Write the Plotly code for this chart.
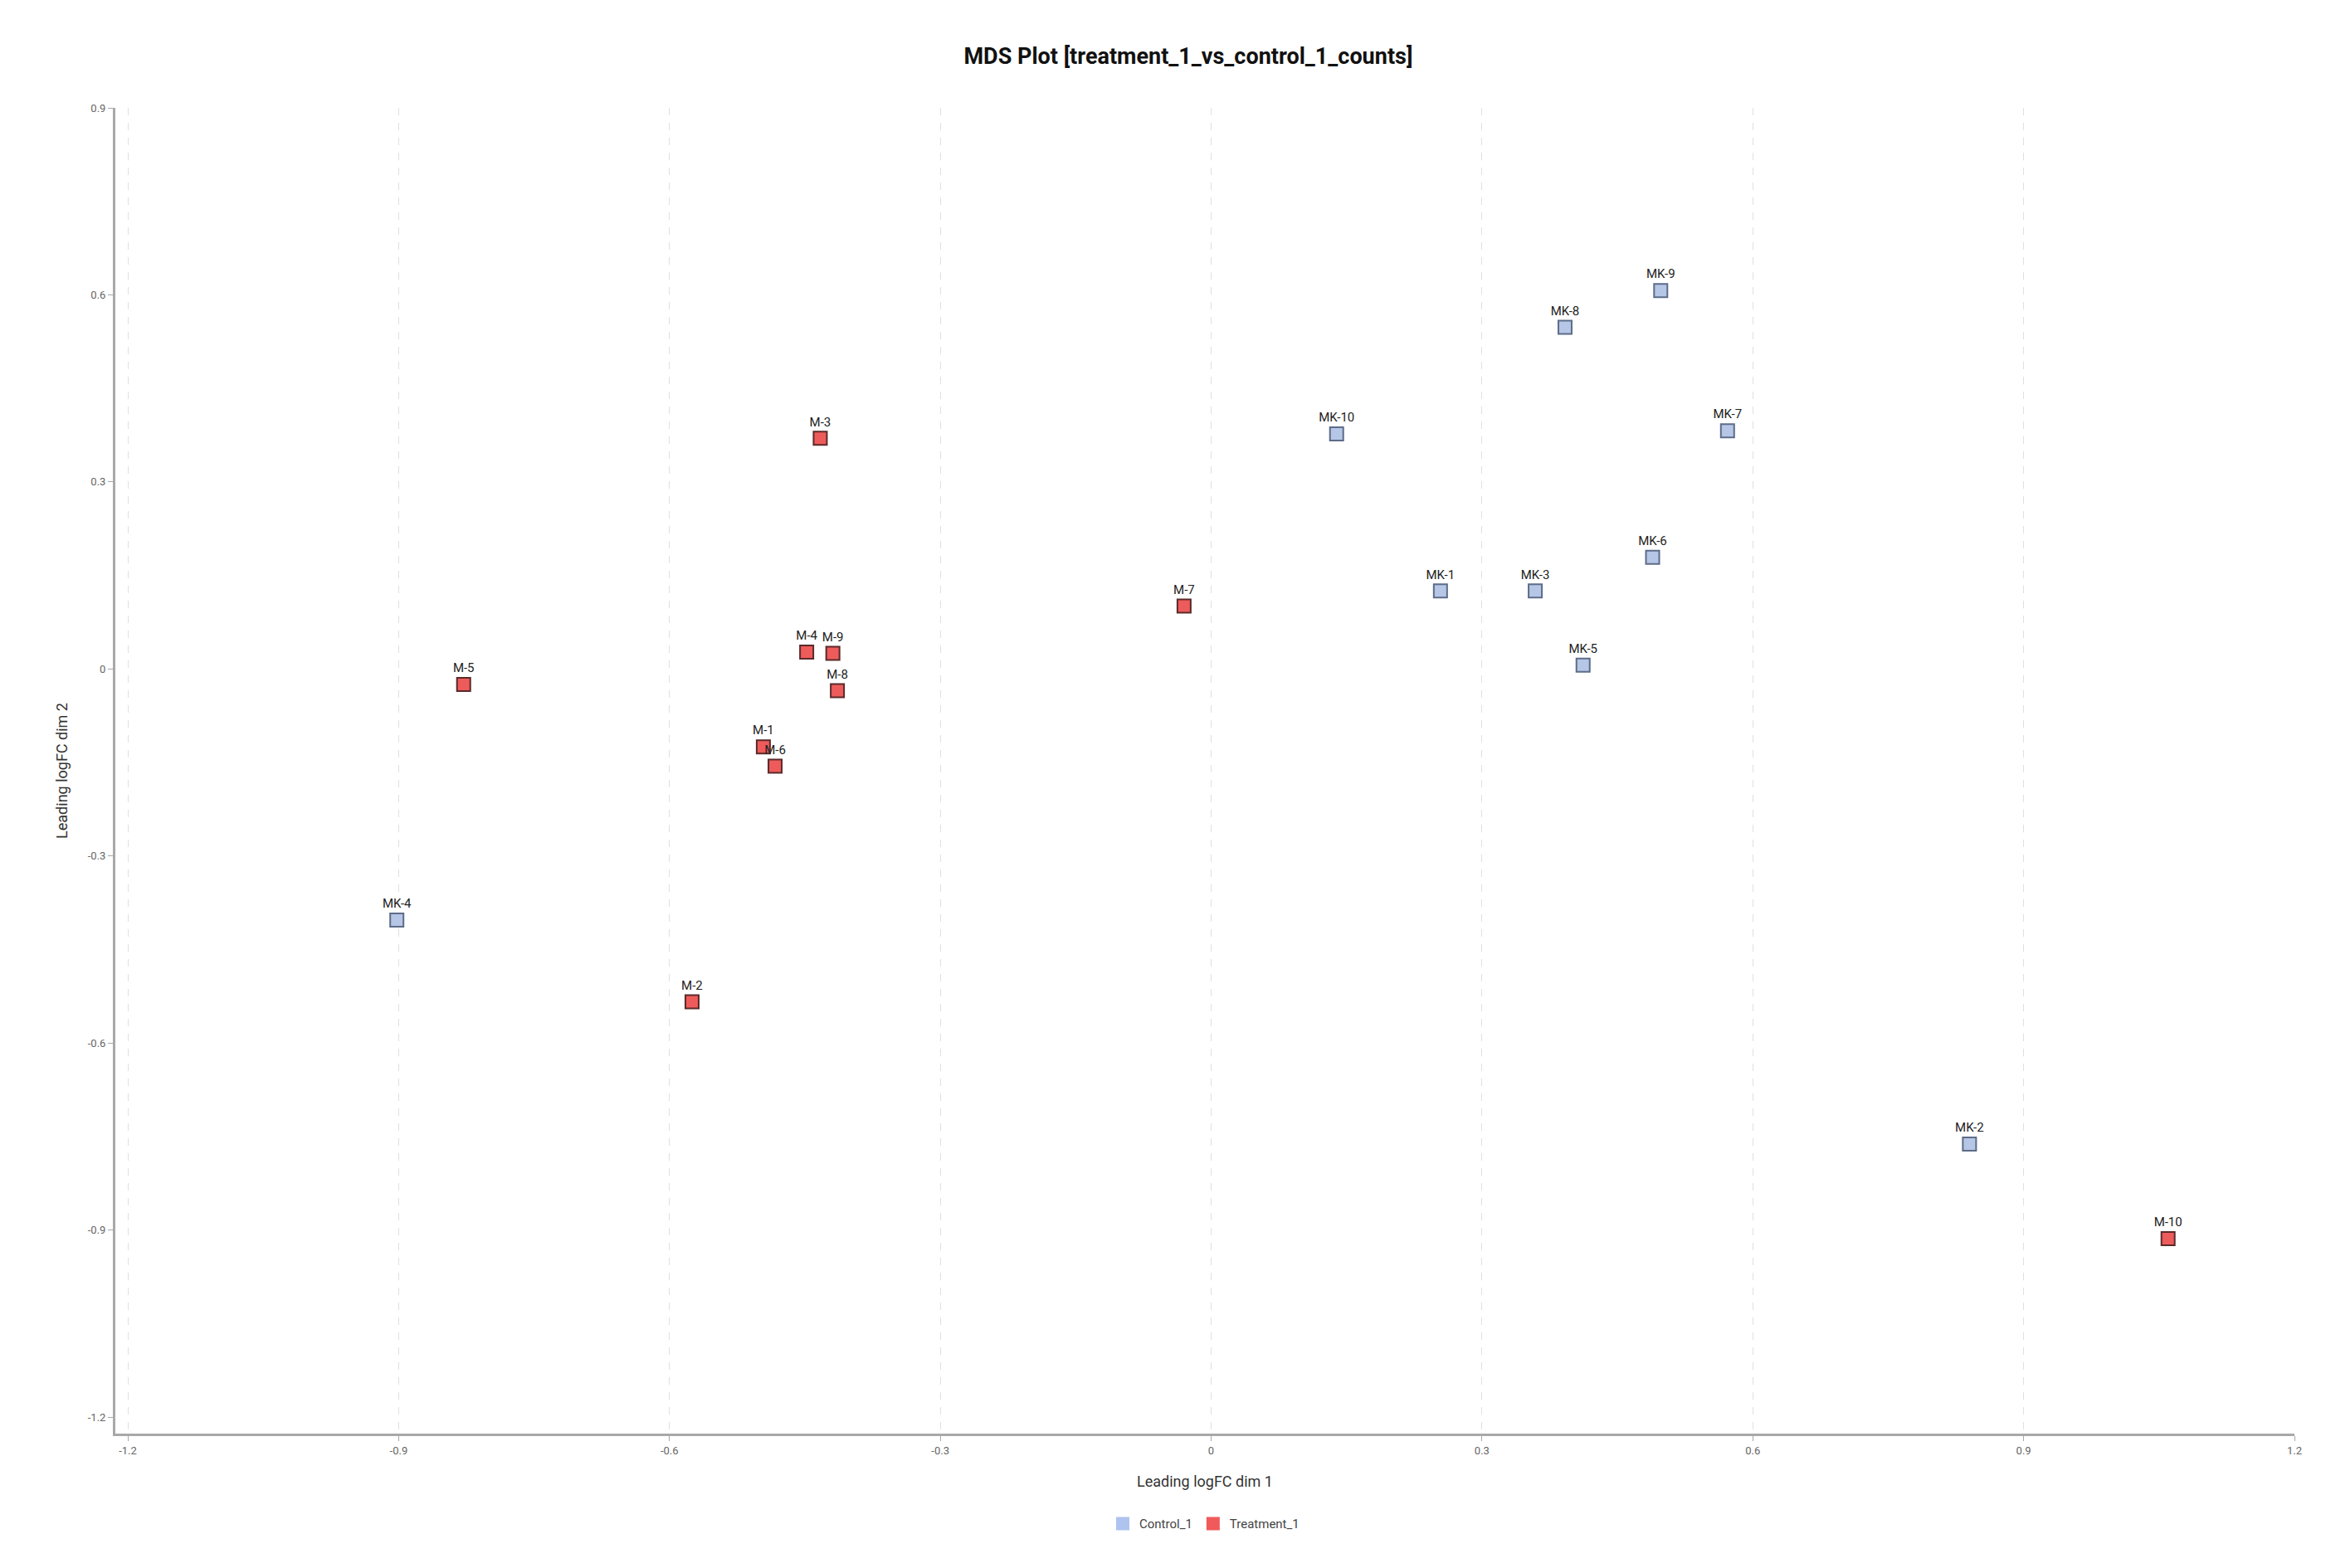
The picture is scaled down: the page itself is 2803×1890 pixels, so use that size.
import plotly.graph_objects as go

# MDS coordinates
control_names = ["MK-1", "MK-2", "MK-3", "MK-4", "MK-5", "MK-6", "MK-7", "MK-8", "MK-9", "MK-10"]
control_x = [0.254, 0.840, 0.359, -0.902, 0.412, 0.489, 0.572, 0.392, 0.498, 0.139]
control_y = [0.125, -0.762, 0.125, -0.403, 0.006, 0.179, 0.382, 0.548, 0.607, 0.377]

treat_names = ["M-1", "M-2", "M-3", "M-4", "M-5", "M-6", "M-7", "M-8", "M-9", "M-10"]
treat_x = [-0.496, -0.575, -0.433, -0.448, -0.828, -0.483, -0.030, -0.414, -0.419, 1.060]
treat_y = [-0.125, -0.534, 0.370, 0.027, -0.025, -0.156, 0.101, -0.035, 0.025, -0.914]

tick_vals = [-1.2, -0.9, -0.6, -0.3, 0, 0.3, 0.6, 0.9, 1.2]
tick_text = ["-1.2", "-0.9", "-0.6", "-0.3", "0", "0.3", "0.6", "0.9", "1.2"]

fig = go.Figure()

fig.add_trace(go.Scatter(
    x=control_x, y=control_y, text=control_names,
    name="Control_1", showlegend=False,
    mode="markers+text",
    textposition="top center",
    textfont=dict(size=15, color="#222222", family="Roboto"),
    marker=dict(symbol="square", size=16, color="#b5c6e6",
                line=dict(width=2, color="#5d6c88")),
))

fig.add_trace(go.Scatter(
    x=treat_x, y=treat_y, text=treat_names,
    name="Treatment_1", showlegend=False,
    mode="markers+text",
    textposition="top center",
    textfont=dict(size=15, color="#222222", family="Roboto"),
    marker=dict(symbol="square", size=16, color="#ee5b5b",
                line=dict(width=2, color="#5a2a2a")),
))

# legend entries: plain swatches without outline
fig.add_trace(go.Scatter(x=[None], y=[None], name="Control_1", mode="markers",
                         marker=dict(symbol="square", size=22, color="#aec3ee")))
fig.add_trace(go.Scatter(x=[None], y=[None], name="Treatment_1", mode="markers",
                         marker=dict(symbol="square", size=22, color="#f05a5a")))

fig.update_layout(
    width=2803, height=1890,
    paper_bgcolor="white", plot_bgcolor="white",
    margin=dict(l=131, r=46, t=122, b=170),
    font=dict(family="Roboto", color="#444444"),
    title=dict(text="MDS Plot [treatment_1_vs_control_1_counts]",
               x=0.508, xanchor="center", y=0.9685, yanchor="middle",
               font=dict(size=27, color="#111111", family="Roboto", weight="bold")),
    showlegend=True,
    legend=dict(orientation="h", x=0.5, xanchor="center", y=-0.068, yanchor="middle",
                font=dict(size=15, color="#444444"), itemsizing="trace"),
    xaxis=dict(
        range=[-1.2138, 1.2],
        tickvals=tick_vals, ticktext=tick_text,
        showgrid=True, gridcolor="#e0e0e0", griddash="dash", gridwidth=1,
        zeroline=False,
        showline=True, linecolor="#a8a8a8", linewidth=3,
        ticks="outside", ticklen=6, tickcolor="#a8a8a8",
        tickfont=dict(size=13, color="#666666"),
        title=dict(text="Leading logFC dim 1", font=dict(size=18, color="#333333"), standoff=25),
    ),
    yaxis=dict(
        range=[-1.2266, 0.9],
        tickvals=tick_vals[:-1], ticktext=tick_text[:-1],
        showgrid=False,
        zeroline=False,
        showline=True, linecolor="#a8a8a8", linewidth=3,
        ticks="outside", ticklen=6, tickcolor="#a8a8a8",
        tickfont=dict(size=13, color="#666666"),
        title=dict(text="Leading logFC dim 2", font=dict(size=18, color="#333333"), standoff=20),
    ),
)

fig.write_html("out.html")
